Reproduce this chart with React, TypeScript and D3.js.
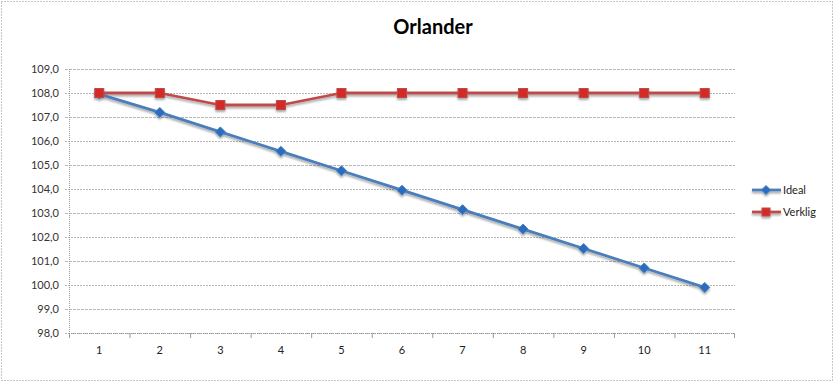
import React from "react";
import * as d3 from "d3";

const categories = ["1", "2", "3", "4", "5", "6", "7", "8", "9", "10", "11"];
const idealValues = [107.95, 107.19, 106.38, 105.57, 104.76, 103.95, 103.14, 102.33, 101.52, 100.71, 99.9];
const verkligValues = [108, 108, 107.5, 107.5, 108, 108, 108, 108, 108, 108, 108];
const yTicks = [98, 99, 100, 101, 102, 103, 104, 105, 106, 107, 108, 109];
const title = "Orlander";
const seriesNames = ["Ideal", "Verklig"];

const W = 835;
const H = 383;
const left = 69;
const right = 735;
const top = 69;
const bottom = 333;
const font = "Lato, 'Open Sans', sans-serif";

export default function App() {
  const x = d3.scaleBand<string>().domain(categories).range([left, right]);
  const y = d3.scaleLinear().domain([98, 109]).range([bottom, top]);
  const cx = (c: string) => (x(c) as number) + x.bandwidth() / 2;
  const line = d3
    .line<number>()
    .x((_, i) => cx(categories[i]))
    .y((v) => y(v));
  const fmt = (v: number) => v.toFixed(1).replace(".", ",");
  const blue = "#4a7ebb";
  const blueMarker = "#2a6cc0";
  const red = "#be4b48";
  const redMarker = "#d42a25";

  const diamond = (px: number, py: number, r: number) =>
    `M${px},${py - r}L${px + r},${py}L${px},${py + r}L${px - r},${py}Z`;

  return (
    <svg width={W} height={H} style={{ position: "absolute", left: 0, top: 0, display: "block" }}>
      <defs>
        <filter id="sh" x="-50%" y="-50%" width="200%" height="200%">
          <feGaussianBlur in="SourceAlpha" stdDeviation="1.2" />
          <feOffset dx="0" dy="2" result="b" />
          <feComponentTransfer>
            <feFuncA type="linear" slope="0.35" />
          </feComponentTransfer>
          <feMerge>
            <feMergeNode />
            <feMergeNode in="SourceGraphic" />
          </feMerge>
        </filter>
      </defs>
      <rect x={0} y={0} width={W} height={H} fill="#fff" />
      <rect x={1.5} y={1.5} width={W - 4} height={H - 4} fill="none" stroke="#8c8c8c" strokeDasharray="1,2" />
      <text x={433} y={34} textAnchor="middle" fontFamily={font} fontWeight="bold" fontSize={20} fill="#000">
        {title}
      </text>
      {yTicks.map((t) => (
        <g key={t}>
          <line x1={left - 4} x2={right} y1={y(t) + 0.5} y2={y(t) + 0.5} stroke="#b8b8b8" strokeDasharray={t % 2 === 0 ? "2,1" : "3,1"} />
          <text x={59} y={y(t) + 4} textAnchor="end" fontFamily={font} fontSize={11} fill="#333">
            {fmt(t)}
          </text>
        </g>
      ))}
      <line x1={left + 0.5} x2={left + 0.5} y1={top} y2={bottom} stroke="#999" strokeDasharray="1,1" />
      <line x1={left} x2={right} y1={bottom + 0.5} y2={bottom + 0.5} stroke="#999" strokeDasharray="1,1" />
      {categories.map((c) => (
        <g key={c}>
          <line x1={(x(c) as number) + 0.5} x2={(x(c) as number) + 0.5} y1={bottom} y2={bottom + 5} stroke="#999" />
          <text x={cx(c)} y={354} textAnchor="middle" fontFamily={font} fontSize={11} fill="#222">
            {c}
          </text>
        </g>
      ))}
      <line x1={right - 0.5} x2={right - 0.5} y1={bottom} y2={bottom + 5} stroke="#999" />
      <g filter="url(#sh)">
        <path d={line(idealValues) || ""} fill="none" stroke={blue} strokeWidth={2.8} strokeLinejoin="round" />
        {idealValues.map((v, i) => (
          <path key={i} d={diamond(cx(categories[i]), y(v), 5)} fill={blueMarker} stroke={blue} strokeWidth={1} />
        ))}
        <path d={line(verkligValues) || ""} fill="none" stroke={red} strokeWidth={2.8} strokeLinejoin="round" />
        {verkligValues.map((v, i) => (
          <rect key={i} x={cx(categories[i]) - 4.5} y={y(v) - 4.5} width={9} height={9} fill={redMarker} stroke={red} strokeWidth={1} />
        ))}
      </g>
      <g filter="url(#sh)">
        <line x1={752} x2={781} y1={190} y2={190} stroke={blue} strokeWidth={2.8} />
        <path d={diamond(766, 190, 4.5)} fill={blueMarker} stroke={blue} />
        <line x1={752} x2={781} y1={212} y2={212} stroke={red} strokeWidth={2.8} />
        <rect x={762} y={208} width={8} height={8} fill={redMarker} stroke={red} />
      </g>
      <text x={783} y={194} fontFamily={font} fontSize={11} fill="#222">
        {seriesNames[0]}
      </text>
      <text x={783} y={216} fontFamily={font} fontSize={11} fill="#222">
        {seriesNames[1]}
      </text>
    </svg>
  );
}
